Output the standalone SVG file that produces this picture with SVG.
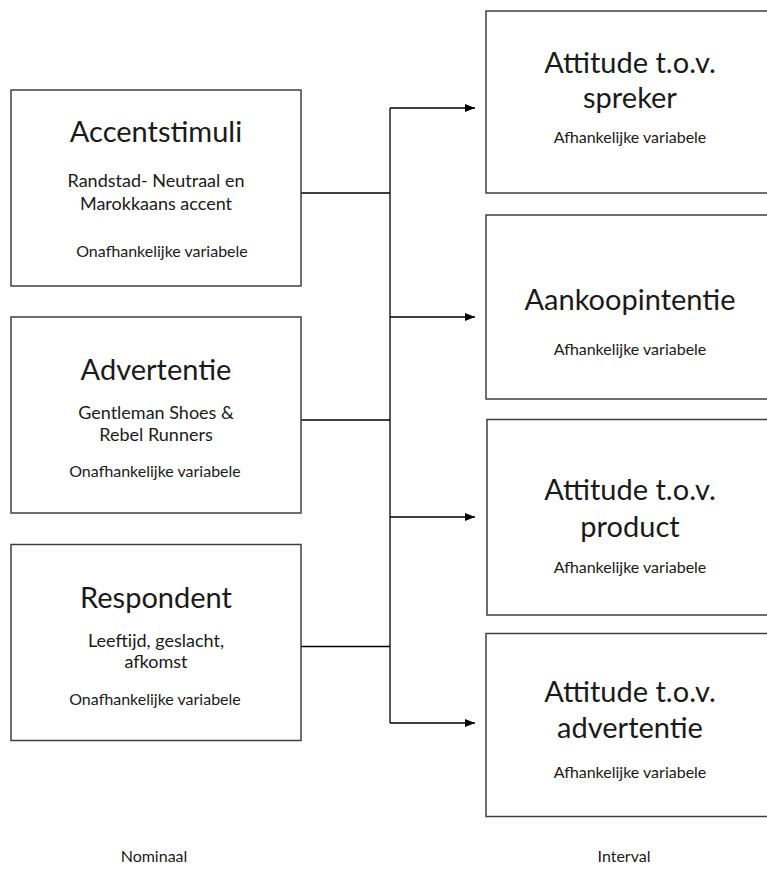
<svg xmlns="http://www.w3.org/2000/svg" width="767" height="870" viewBox="0 0 767 870">
<style>
.box{fill:#fff;stroke:#3f3f3f;stroke-width:1.5}
.t{font-family:Lato,"Open Sans",sans-serif;fill:#1a1a1a;text-anchor:middle}
.h{font-size:29px}
.s{font-size:18px}
.v{font-size:16px}
.c{fill:none;stroke:#000;stroke-width:1.3}
</style>
<defs>
<marker id="ah" viewBox="0 0 10 8" refX="10" refY="4" markerWidth="10" markerHeight="8" markerUnits="userSpaceOnUse" orient="auto">
<path d="M0,0 L10,4 L0,8 Z" fill="#000"/>
</marker>
</defs>
<rect width="767" height="870" fill="#fff"/>
<g id="connectors">
<line class="c" x1="301" y1="193" x2="390" y2="193"/>
<line class="c" x1="301" y1="420" x2="390" y2="420"/>
<line class="c" x1="301" y1="646.5" x2="390" y2="646.5"/>
<line class="c" x1="390" y1="108" x2="390" y2="723"/>
<line class="c" x1="390" y1="108" x2="475" y2="108" marker-end="url(#ah)"/>
<line class="c" x1="390" y1="317" x2="475" y2="317" marker-end="url(#ah)"/>
<line class="c" x1="390" y1="517" x2="475" y2="517" marker-end="url(#ah)"/>
<line class="c" x1="390" y1="723" x2="475" y2="723" marker-end="url(#ah)"/>
</g>
<g id="accentstimuli">
<rect class="box" x="11" y="90" width="290" height="196"/>
<text class="t h" x="156" y="142">Accentstimuli</text>
<text class="t s" x="156" y="187">Randstad- Neutraal en<tspan x="156" dy="23">Marokkaans accent</tspan></text>
<text class="t v" x="162" y="257">Onafhankelijke variabele</text>
</g>
<g id="advertentie">
<rect class="box" x="11" y="317" width="290" height="196"/>
<text class="t h" x="156" y="380">Advertentie</text>
<text class="t s" x="156" y="419">Gentleman Shoes &amp;<tspan x="156" dy="22">Rebel Runners</tspan></text>
<text class="t v" x="155" y="477">Onafhankelijke variabele</text>
</g>
<g id="respondent">
<rect class="box" x="11" y="544.5" width="290" height="196"/>
<text class="t h" x="156" y="608">Respondent</text>
<text class="t s" x="156" y="647">Leeftijd, geslacht,<tspan x="156" dy="21">afkomst</tspan></text>
<text class="t v" x="155" y="705">Onafhankelijke variabele</text>
</g>
<g id="spreker">
<rect class="box" x="486" y="11" width="290" height="182"/>
<text class="t h" x="630" y="73">Attitude t.o.v.<tspan x="630" dy="35">spreker</tspan></text>
<text class="t v" x="630" y="143">Afhankelijke variabele</text>
</g>
<g id="aankoopintentie">
<rect class="box" x="486" y="215" width="290" height="184"/>
<text class="t h" x="630" y="310">Aankoopintentie</text>
<text class="t v" x="630" y="355">Afhankelijke variabele</text>
</g>
<g id="product">
<rect class="box" x="487" y="419.5" width="290" height="195.5"/>
<text class="t h" x="630" y="500">Attitude t.o.v.<tspan x="630" dy="37">product</tspan></text>
<text class="t v" x="630" y="573">Afhankelijke variabele</text>
</g>
<g id="advertentie-attitude">
<rect class="box" x="486" y="633.5" width="290" height="183"/>
<text class="t h" x="630" y="702">Attitude t.o.v.<tspan x="630" dy="36">advertentie</tspan></text>
<text class="t v" x="630" y="778">Afhankelijke variabele</text>
</g>
<g id="labels">
<text class="t v" x="154" y="862">Nominaal</text>
<text class="t v" x="624" y="862">Interval</text>
</g>
</svg>
